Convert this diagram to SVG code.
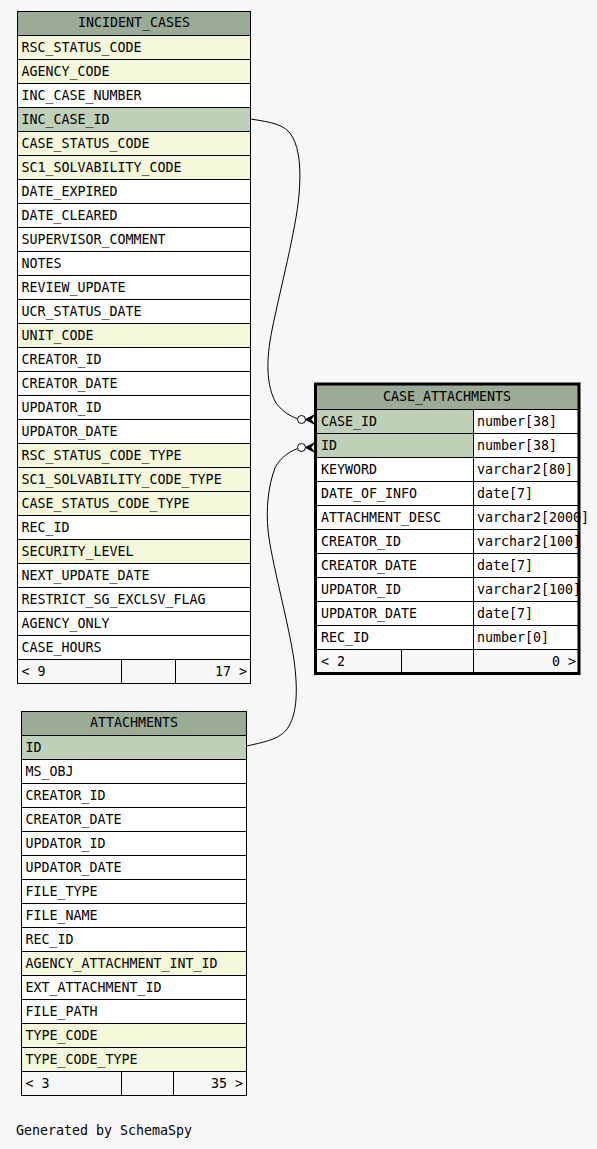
<svg xmlns="http://www.w3.org/2000/svg" width="597" height="1149" viewBox="0 0 597 1149">
<style>
text{font-family:"DejaVu Sans Mono","Liberation Mono",monospace;font-size:13.3px;fill:#000}
.c{fill:#fff;stroke:#000;stroke-width:1}
.h{fill:#9bab96;stroke:#000;stroke-width:1}
.pk{fill:#bed1b8;stroke:#000;stroke-width:1}
.ix{fill:#f4f7da;stroke:#000;stroke-width:1}
.ft{fill:#f7f7f7;stroke:#000;stroke-width:1}
.mid{text-anchor:middle}
.end{text-anchor:end}
.edge{fill:none;stroke:#000;stroke-width:1}
</style>
<rect x="0" y="0" width="597" height="1149" fill="#f7f7f7"/>

<g id="incident_cases">
<rect class="h" x="17.5" y="11.5" width="233" height="24"/>
<text class="mid" x="134" y="27">INCIDENT_CASES</text>
<rect class="ix" x="17.5" y="35.5" width="233" height="24"/><text x="21.5" y="52">RSC_STATUS_CODE</text>
<rect class="ix" x="17.5" y="59.5" width="233" height="24"/><text x="21.5" y="76">AGENCY_CODE</text>
<rect class="c" x="17.5" y="83.5" width="233" height="24"/><text x="21.5" y="100">INC_CASE_NUMBER</text>
<rect class="pk" x="17.5" y="107.5" width="233" height="24"/><text x="21.5" y="124">INC_CASE_ID</text>
<rect class="ix" x="17.5" y="131.5" width="233" height="24"/><text x="21.5" y="148">CASE_STATUS_CODE</text>
<rect class="ix" x="17.5" y="155.5" width="233" height="24"/><text x="21.5" y="172">SC1_SOLVABILITY_CODE</text>
<rect class="c" x="17.5" y="179.5" width="233" height="24"/><text x="21.5" y="196">DATE_EXPIRED</text>
<rect class="c" x="17.5" y="203.5" width="233" height="24"/><text x="21.5" y="220">DATE_CLEARED</text>
<rect class="c" x="17.5" y="227.5" width="233" height="24"/><text x="21.5" y="244">SUPERVISOR_COMMENT</text>
<rect class="c" x="17.5" y="251.5" width="233" height="24"/><text x="21.5" y="268">NOTES</text>
<rect class="c" x="17.5" y="275.5" width="233" height="24"/><text x="21.5" y="292">REVIEW_UPDATE</text>
<rect class="c" x="17.5" y="299.5" width="233" height="24"/><text x="21.5" y="316">UCR_STATUS_DATE</text>
<rect class="ix" x="17.5" y="323.5" width="233" height="24"/><text x="21.5" y="340">UNIT_CODE</text>
<rect class="c" x="17.5" y="347.5" width="233" height="24"/><text x="21.5" y="364">CREATOR_ID</text>
<rect class="c" x="17.5" y="371.5" width="233" height="24"/><text x="21.5" y="388">CREATOR_DATE</text>
<rect class="c" x="17.5" y="395.5" width="233" height="24"/><text x="21.5" y="412">UPDATOR_ID</text>
<rect class="c" x="17.5" y="419.5" width="233" height="24"/><text x="21.5" y="436">UPDATOR_DATE</text>
<rect class="ix" x="17.5" y="443.5" width="233" height="24"/><text x="21.5" y="460">RSC_STATUS_CODE_TYPE</text>
<rect class="ix" x="17.5" y="467.5" width="233" height="24"/><text x="21.5" y="484">SC1_SOLVABILITY_CODE_TYPE</text>
<rect class="ix" x="17.5" y="491.5" width="233" height="24"/><text x="21.5" y="508">CASE_STATUS_CODE_TYPE</text>
<rect class="c" x="17.5" y="515.5" width="233" height="24"/><text x="21.5" y="532">REC_ID</text>
<rect class="ix" x="17.5" y="539.5" width="233" height="24"/><text x="21.5" y="556">SECURITY_LEVEL</text>
<rect class="c" x="17.5" y="563.5" width="233" height="24"/><text x="21.5" y="580">NEXT_UPDATE_DATE</text>
<rect class="c" x="17.5" y="587.5" width="233" height="24"/><text x="21.5" y="604">RESTRICT_SG_EXCLSV_FLAG</text>
<rect class="c" x="17.5" y="611.5" width="233" height="24"/><text x="21.5" y="628">AGENCY_ONLY</text>
<rect class="c" x="17.5" y="635.5" width="233" height="24"/><text x="21.5" y="652">CASE_HOURS</text>
<rect class="ft" x="17.5" y="659.5" width="104" height="24"/>
<rect class="ft" x="121.5" y="659.5" width="54" height="24"/>
<rect class="ft" x="175.5" y="659.5" width="75" height="24"/>
<text x="21.5" y="676">&lt; 9</text>
<text class="end" x="247" y="676">17 &gt;</text>
</g>

<g id="case_attachments">
<rect class="h" x="315.5" y="384" width="263.5" height="25.5"/>
<text class="mid" x="447" y="401">CASE_ATTACHMENTS</text>
<rect class="pk" x="315.5" y="409.5" width="158" height="24"/><rect class="c" x="473.5" y="409.5" width="105.5" height="24"/>
<text x="321" y="426">CASE_ID</text><text x="477" y="426">number[38]</text>
<rect class="pk" x="315.5" y="433.5" width="158" height="24"/><rect class="c" x="473.5" y="433.5" width="105.5" height="24"/>
<text x="321" y="450">ID</text><text x="477" y="450">number[38]</text>
<rect class="c" x="315.5" y="457.5" width="158" height="24"/><rect class="c" x="473.5" y="457.5" width="105.5" height="24"/>
<text x="321" y="474">KEYWORD</text><text x="477" y="474">varchar2[80]</text>
<rect class="c" x="315.5" y="481.5" width="158" height="24"/><rect class="c" x="473.5" y="481.5" width="105.5" height="24"/>
<text x="321" y="498">DATE_OF_INFO</text><text x="477" y="498">date[7]</text>
<rect class="c" x="315.5" y="505.5" width="158" height="24"/><rect class="c" x="473.5" y="505.5" width="105.5" height="24"/>
<text x="321" y="522">ATTACHMENT_DESC</text><text x="477" y="522">varchar2[2000]</text>
<rect class="c" x="315.5" y="529.5" width="158" height="24"/><rect class="c" x="473.5" y="529.5" width="105.5" height="24"/>
<text x="321" y="546">CREATOR_ID</text><text x="477" y="546">varchar2[100]</text>
<rect class="c" x="315.5" y="553.5" width="158" height="24"/><rect class="c" x="473.5" y="553.5" width="105.5" height="24"/>
<text x="321" y="570">CREATOR_DATE</text><text x="477" y="570">date[7]</text>
<rect class="c" x="315.5" y="577.5" width="158" height="24"/><rect class="c" x="473.5" y="577.5" width="105.5" height="24"/>
<text x="321" y="594">UPDATOR_ID</text><text x="477" y="594">varchar2[100]</text>
<rect class="c" x="315.5" y="601.5" width="158" height="24"/><rect class="c" x="473.5" y="601.5" width="105.5" height="24"/>
<text x="321" y="618">UPDATOR_DATE</text><text x="477" y="618">date[7]</text>
<rect class="c" x="315.5" y="625.5" width="158" height="24"/><rect class="c" x="473.5" y="625.5" width="105.5" height="24"/>
<text x="321" y="642">REC_ID</text><text x="477" y="642">number[0]</text>
<rect class="ft" x="315.5" y="649.5" width="86" height="24"/>
<rect class="ft" x="401.5" y="649.5" width="72" height="24"/>
<rect class="ft" x="473.5" y="649.5" width="105.5" height="24"/>
<text x="321" y="666">&lt; 2</text>
<text class="end" x="576" y="666">0 &gt;</text>
<rect x="315.5" y="384" width="263.5" height="289.5" fill="none" stroke="#000" stroke-width="3"/>
</g>

<g id="attachments">
<rect class="h" x="21.5" y="711.5" width="225" height="24"/>
<text class="mid" x="134" y="727">ATTACHMENTS</text>
<rect class="pk" x="21.5" y="735.5" width="225" height="24"/><text x="25.5" y="752">ID</text>
<rect class="c" x="21.5" y="759.5" width="225" height="24"/><text x="25.5" y="776">MS_OBJ</text>
<rect class="c" x="21.5" y="783.5" width="225" height="24"/><text x="25.5" y="800">CREATOR_ID</text>
<rect class="c" x="21.5" y="807.5" width="225" height="24"/><text x="25.5" y="824">CREATOR_DATE</text>
<rect class="c" x="21.5" y="831.5" width="225" height="24"/><text x="25.5" y="848">UPDATOR_ID</text>
<rect class="c" x="21.5" y="855.5" width="225" height="24"/><text x="25.5" y="872">UPDATOR_DATE</text>
<rect class="c" x="21.5" y="879.5" width="225" height="24"/><text x="25.5" y="896">FILE_TYPE</text>
<rect class="c" x="21.5" y="903.5" width="225" height="24"/><text x="25.5" y="920">FILE_NAME</text>
<rect class="c" x="21.5" y="927.5" width="225" height="24"/><text x="25.5" y="944">REC_ID</text>
<rect class="ix" x="21.5" y="951.5" width="225" height="24"/><text x="25.5" y="968">AGENCY_ATTACHMENT_INT_ID</text>
<rect class="c" x="21.5" y="975.5" width="225" height="24"/><text x="25.5" y="992">EXT_ATTACHMENT_ID</text>
<rect class="c" x="21.5" y="999.5" width="225" height="24"/><text x="25.5" y="1016">FILE_PATH</text>
<rect class="ix" x="21.5" y="1023.5" width="225" height="24"/><text x="25.5" y="1040">TYPE_CODE</text>
<rect class="ix" x="21.5" y="1047.5" width="225" height="24"/><text x="25.5" y="1064">TYPE_CODE_TYPE</text>
<rect class="ft" x="21.5" y="1071.5" width="100" height="24"/>
<rect class="ft" x="121.5" y="1071.5" width="52" height="24"/>
<rect class="ft" x="173.5" y="1071.5" width="73" height="24"/>
<text x="25.5" y="1088">&lt; 3</text>
<text class="end" x="243" y="1088">35 &gt;</text>
</g>

<g id="connectors">
<path class="edge" d="M250.5,119 C270,122 285,124 292,136 C300,150 301,170 299,195 C296,230 280,290 272,330 C266,360 266,385 276,403 C283,412 290,416 297,418.5"/>
<circle cx="301.5" cy="419.5" r="4" fill="#fff" stroke="#000" stroke-width="1"/>
<polygon points="305.5,419.5 314,415 311,419.5 314,424" fill="#000" stroke="#000" stroke-width="1"/>
<path class="edge" d="M297.5,448.5 C286,453 279,460 275,468 C268,486 266,510 268,530 C271,560 288,620 294,660 C298,690 297,712 289,726 C282,738 270,741 246.5,746"/>
<circle cx="301.5" cy="447.5" r="4" fill="#fff" stroke="#000" stroke-width="1"/>
<polygon points="305.5,447.5 314,443 311,447.5 314,452" fill="#000" stroke="#000" stroke-width="1"/>
</g>

<text x="16" y="1135">Generated by SchemaSpy</text>
</svg>
